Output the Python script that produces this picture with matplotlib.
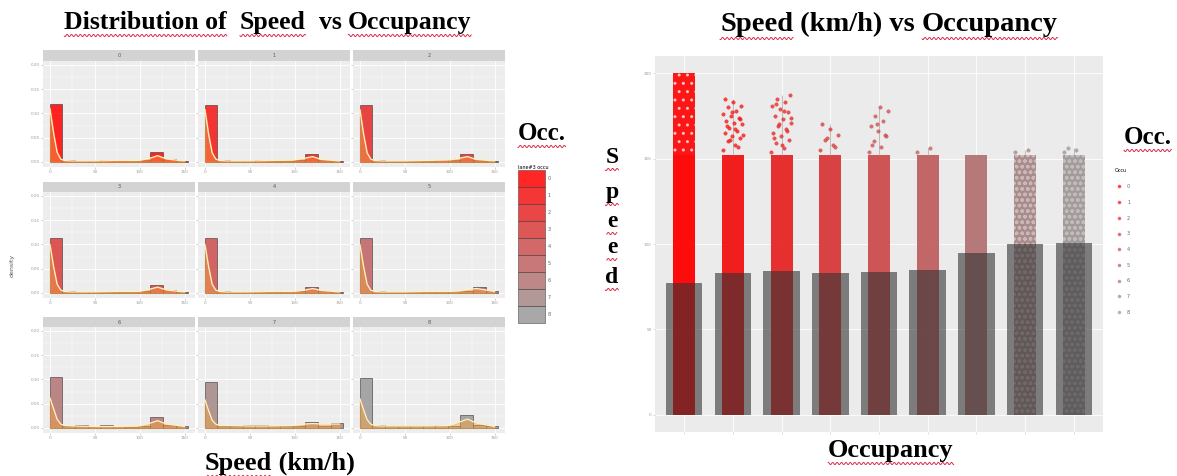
import numpy as np
import matplotlib
matplotlib.use("Agg")
import matplotlib.pyplot as plt
from matplotlib.lines import Line2D
from matplotlib.patches import Patch

W, H = 1177, 476

# ---- data ----
occ = list(range(9))
bin_left = [0, 14, 28, 42, 56, 70, 84, 98, 112, 126, 140]
bin_width = 14

hist = [
    [0.120, 0.004, 0.002, 0.002, 0.003, 0.003, 0.002, 0.003, 0.020, 0.006, 0.002],
    [0.118, 0.003, 0.002, 0.002, 0.003, 0.002, 0.002, 0.004, 0.016, 0.004, 0.002],
    [0.118, 0.003, 0.002, 0.002, 0.002, 0.002, 0.003, 0.004, 0.016, 0.004, 0.002],
    [0.113, 0.004, 0.002, 0.002, 0.002, 0.002, 0.002, 0.003, 0.017, 0.005, 0.002],
    [0.113, 0.004, 0.002, 0.002, 0.002, 0.002, 0.002, 0.003, 0.012, 0.003, 0.002],
    [0.113, 0.004, 0.002, 0.002, 0.002, 0.002, 0.002, 0.003, 0.004, 0.012, 0.003],
    [0.105, 0.004, 0.005, 0.003, 0.005, 0.003, 0.002, 0.003, 0.022, 0.006, 0.003],
    [0.095, 0.004, 0.003, 0.005, 0.005, 0.004, 0.003, 0.004, 0.012, 0.004, 0.010],
    [0.103, 0.005, 0.003, 0.003, 0.004, 0.003, 0.005, 0.004, 0.027, 0.006, 0.003],
]

dens_x = [0, 4, 8, 12, 16, 25, 50, 75, 100, 112, 120, 130, 150]
dens = [
    [0.110, 0.060, 0.020, 0.006, 0.003, 0.002, 0.002, 0.003, 0.003, 0.008, 0.013, 0.006, 0.002],
    [0.108, 0.058, 0.019, 0.006, 0.003, 0.002, 0.002, 0.003, 0.004, 0.008, 0.011, 0.005, 0.002],
    [0.108, 0.058, 0.019, 0.006, 0.003, 0.002, 0.002, 0.003, 0.004, 0.008, 0.011, 0.005, 0.002],
    [0.100, 0.055, 0.018, 0.006, 0.003, 0.002, 0.002, 0.003, 0.003, 0.008, 0.012, 0.006, 0.002],
    [0.100, 0.055, 0.018, 0.006, 0.003, 0.002, 0.002, 0.003, 0.003, 0.006, 0.009, 0.005, 0.002],
    [0.100, 0.055, 0.018, 0.006, 0.003, 0.002, 0.002, 0.003, 0.003, 0.004, 0.007, 0.009, 0.003],
    [0.062, 0.040, 0.018, 0.008, 0.005, 0.004, 0.003, 0.003, 0.004, 0.010, 0.015, 0.008, 0.003],
    [0.058, 0.036, 0.016, 0.008, 0.005, 0.005, 0.004, 0.004, 0.005, 0.008, 0.009, 0.008, 0.008],
    [0.060, 0.038, 0.017, 0.008, 0.005, 0.004, 0.004, 0.004, 0.005, 0.013, 0.018, 0.010, 0.003],
]

solid_top = [152, 152, 152, 152, 152, 152, 152, 152, 152]
dense_top = [200, 152, 152, 152, 152, 152, 152, 152, 152]
mean_speed = [77, 83, 84, 83, 83.5, 85, 95, 100, 100.5]
outliers = [
    [],
    [155, 158, 160, 162, 163, 165, 166, 168, 170, 171, 172, 174, 175, 176, 178, 180, 181, 183, 185, 157, 161, 164, 167, 169, 173, 177],
    [154, 156, 159, 161, 163, 165, 167, 169, 171, 173, 175, 177, 179, 181, 183, 185, 187, 158, 162, 166, 170, 174, 178, 182],
    [155, 158, 161, 164, 167, 170, 157, 162],
    [154, 157, 160, 163, 166, 169, 172, 175, 178, 180, 158, 164, 170],
    [154, 156],
    [],
    [154, 155],
    [154, 155, 156],
]

red = np.array([1.0, 0.0, 0.0])
grey = np.array([0.6, 0.6, 0.6])
colors = [tuple(red + (grey - red) * k / 8) for k in occ]

fig = plt.figure(figsize=(W / 100, H / 100), dpi=100)
fig.patch.set_facecolor("white")


def px_axes(x0, y0, x1, y1):
    return fig.add_axes([x0 / W, 1 - y1 / H, (x1 - x0) / W, (y1 - y0) / H])


# ---- left: faceted histograms ----
col_x = [(43, 195), (198, 350), (353, 505)]
row_y = [(50, 61, 167), (182, 192, 298), (317, 327, 433)]

for k in occ:
    r, c = divmod(k, 3)
    x0, x1 = col_x[c]
    s0, p0, p1 = row_y[r]
    st = px_axes(x0, s0, x1, p0)
    st.set_facecolor("#d3d3d3")
    st.set_xticks([])
    st.set_yticks([])
    for sp in st.spines.values():
        sp.set_visible(False)
    st.text(0.5, 0.5, str(k), ha="center", va="center", fontsize=3.5, color="#555")

    ax = px_axes(x0, p0, x1, p1)
    ax.set_facecolor("#ededed")
    ax.bar(bin_left, hist[k], width=bin_width, align="edge", color=colors[k],
           alpha=0.85, edgecolor="#3a3a3a", linewidth=0.5, zorder=2)
    ax.fill_between(dens_x, dens[k], color="#f4a340", alpha=0.45, zorder=3)
    ax.plot(dens_x, dens[k], color="#fff1c4", lw=0.9, zorder=4)
    ax.set_xlim(-7.7, 161.7)
    ax.set_ylim(-0.0105, 0.208)
    ax.set_xticks([0, 50, 100, 150])
    ax.set_xticks([25, 75, 125], minor=True)
    ax.set_yticks([0.0, 0.05, 0.10, 0.15, 0.20])
    ax.set_yticks([0.025, 0.075, 0.125, 0.175], minor=True)
    ax.grid(which="major", color="white", lw=0.6, zorder=0)
    ax.grid(which="minor", color="white", lw=0.3, zorder=0)
    ax.set_axisbelow(True)
    ax.tick_params(which="both", length=1.5, width=0.4, color="#aaa",
                   labelsize=3, labelcolor="#999", pad=1)
    ax.tick_params(which="minor", length=0)
    if c != 0:
        ax.set_yticklabels([])
    else:
        ax.set_yticklabels(["0.00", "0.05", "0.10", "0.15", "0.20"])
    for sp in ax.spines.values():
        sp.set_visible(False)

fig.text(12 / W, 1 - 265 / H, "density", rotation=90, fontsize=4.5,
         color="#555", ha="center", va="center")

leg1 = fig.legend(
    handles=[Patch(facecolor=colors[k], edgecolor="#333", lw=0.4, alpha=0.85, label=str(k)) for k in occ],
    title="lane#3 occu", loc="upper left", bbox_to_anchor=(516 / W, 1 - 163 / H),
    fontsize=3.5, title_fontsize=3.5, handlelength=5.4, handleheight=5.0,
    labelspacing=0, handletextpad=0.6, frameon=False, borderpad=0, alignment="left")
for t in leg1.get_texts():
    t.set_color("#666")

# ---- right: speed vs occupancy ----
ax2 = px_axes(655, 56, 1103, 432)
ax2.set_facecolor("#ebebeb")
ax2.bar(occ, solid_top, width=0.45, color=colors, alpha=0.95, zorder=2)
ax2.bar(occ, np.subtract(dense_top, solid_top), bottom=solid_top, width=0.45,
        color=colors, alpha=0.9, zorder=2, hatch="..", edgecolor="#f3caca", linewidth=0)
for k in [7, 8]:
    ax2.bar(occ[k], solid_top[k], width=0.45, color="none", hatch="ooo",
            edgecolor="#c8b8b8", linewidth=0, zorder=2)
for k in occ:
    ys = outliers[k]
    if not ys:
        continue
    offs = [((i * 0.618034) % 1 - 0.5) * 0.42 for i in range(len(ys))]
    ax2.vlines(k, solid_top[k], max(ys), color="#b0a0a0", lw=0.5, zorder=2)
    ax2.scatter(np.add(k, offs), ys, s=6, facecolor=colors[k], edgecolor=colors[k],
                alpha=0.75, linewidth=0.4, zorder=3)
ax2.bar(occ, mean_speed, width=0.75, color="#333333", alpha=0.6, zorder=4)
ax2.set_xlim(-0.6, 8.6)
ax2.set_ylim(-10, 210)
ax2.set_yticks([0, 50, 100, 150, 200])
ax2.set_yticklabels(["0", "50", "100", "150", "200"])
ax2.set_xticks(occ)
ax2.set_xticklabels([])
ax2.grid(axis="y", color="white", lw=0.6, zorder=0)
ax2.grid(axis="x", color="white", lw=0.6, zorder=0)
ax2.set_axisbelow(True)
ax2.tick_params(length=1.5, width=0.4, color="#bbb", labelsize=3, labelcolor="#999", pad=1)
for sp in ax2.spines.values():
    sp.set_visible(False)

leg2 = fig.legend(
    handles=[Line2D([], [], marker="o", ls="", color=colors[k], ms=1.6, alpha=0.6, label=str(k)) for k in occ],
    title="Occu", loc="upper left", bbox_to_anchor=(1112 / W, 1 - 166 / H),
    fontsize=3.5, title_fontsize=3.5, labelspacing=2.2, handletextpad=0.6,
    frameon=False, borderpad=0, alignment="left")
for t in leg2.get_texts():
    t.set_color("#666")

# ---- document-style labels with squiggle underline ----
serif = dict(family="Liberation Serif", weight="bold", color="black")
renderer = fig.canvas.get_renderer()


def squiggle(t):
    bb = t.get_window_extent(renderer)
    xs = np.arange(bb.x0, bb.x1, 0.5)
    ys = bb.y0 - 1.5 + 1.1 * np.sin(xs * np.pi / 2.2)
    fig.add_artist(Line2D(xs / W, ys / H, transform=fig.transFigure, color="#d8304a", lw=0.7))


def words(pieces, x, y, size, center=True):
    arts = []
    cx = x
    for txt, ul in pieces:
        t = fig.text(cx / W, 1 - y / H, txt, fontsize=size, ha="left", va="baseline", **serif)
        arts.append((t, ul))
        cx += t.get_window_extent(renderer).width
    if center:
        shift = (cx - x) / 2
        for t, _ in arts:
            px, py = t.get_position()
            t.set_position((px - shift / W, py))
    for t, ul in arts:
        if ul:
            squiggle(t)


words([("Distribution of", True), ("  ", False), ("Speed", True), ("  vs ", False), ("Occupancy", True)],
      268, 29, 18.5)
words([("Speed", True), (" (km/h) vs ", False), ("Occupancy", True)], 889, 31, 20.5)
words([("Speed", True), (" (km/h)", False)], 280, 470, 19)
words([("Occupancy", True)], 891, 457, 19)
words([("Occ.", True)], 542, 140, 18)
words([("Occ.", True)], 1148, 144, 18)
for i, ch in enumerate("Speed"):
    words([(ch, True)], 612, [163, 198, 227, 253, 283][i], 17)

fig.savefig("out.png", dpi=100)
